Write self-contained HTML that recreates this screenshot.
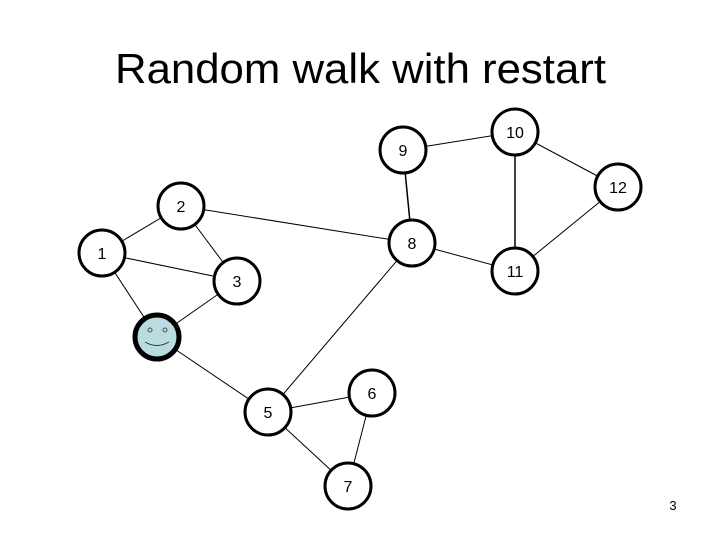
<!DOCTYPE html>
<html><head><meta charset="utf-8"><style>
html,body{margin:0;padding:0;background:#fff;}
svg{display:block;}
text{font-family:"Liberation Sans",Arial,sans-serif;}
</style></head><body>
<svg width="720" height="540" viewBox="0 0 720 540" xmlns="http://www.w3.org/2000/svg">
<text x="115" y="83" font-size="42" textLength="491" lengthAdjust="spacingAndGlyphs">Random walk with restart</text>
<g stroke="#000" stroke-width="1">
<line x1="102" y1="253" x2="181" y2="206"/>
<line x1="102" y1="253" x2="237" y2="281"/>
<line x1="102" y1="253" x2="157" y2="337"/>
<line x1="181" y1="206" x2="237" y2="281"/>
<line x1="181" y1="206" x2="412" y2="243"/>
<line x1="237" y1="281" x2="157" y2="337"/>
<line x1="157" y1="337" x2="268" y2="412"/>
<line x1="268" y1="412" x2="412" y2="243"/>
<line x1="268" y1="412" x2="372" y2="393"/>
<line x1="268" y1="412" x2="348" y2="486"/>
<line x1="372" y1="393" x2="348" y2="486"/>
<line x1="403" y1="150" x2="412" y2="243" stroke-width="1.5"/>
<line x1="403" y1="150" x2="515" y2="132"/>
<line x1="515" y1="132" x2="515" y2="271" stroke-width="1.5"/>
<line x1="515" y1="132" x2="618" y2="187"/>
<line x1="618" y1="187" x2="515" y2="271"/>
<line x1="412" y1="243" x2="515" y2="271"/>
</g>
<g fill="#fff" stroke="#000" stroke-width="3">
<circle cx="102" cy="253" r="23"/>
<circle cx="181" cy="206" r="23"/>
<circle cx="237" cy="281" r="23"/>
<circle cx="412" cy="243" r="23"/>
<circle cx="403" cy="150" r="23"/>
<circle cx="515" cy="132" r="23"/>
<circle cx="618" cy="187" r="23"/>
<circle cx="515" cy="271" r="23"/>
<circle cx="268" cy="412" r="23"/>
<circle cx="372" cy="393" r="23"/>
<circle cx="348" cy="486" r="23"/>
</g>
<circle cx="157" cy="337" r="22" fill="#b8dce0" stroke="#000" stroke-width="5"/>
<circle cx="150" cy="330" r="2" fill="none" stroke="#555" stroke-width="1"/>
<circle cx="165" cy="330" r="2" fill="none" stroke="#555" stroke-width="1"/>
<path d="M145 342 Q157 349 169 342" fill="none" stroke="#333" stroke-width="1"/>
<g font-size="16" text-anchor="middle">
<text x="102" y="259">1</text>
<text x="181" y="212">2</text>
<text x="237" y="287">3</text>
<text x="412" y="249">8</text>
<text x="403" y="156">9</text>
<text x="515" y="138">10</text>
<text x="618" y="193">12</text>
<text x="515" y="277">11</text>
<text x="268" y="418">5</text>
<text x="372" y="399">6</text>
<text x="348" y="492">7</text>
<text x="673" y="510" font-size="13">3</text>
</g>
</svg>
</body></html>
